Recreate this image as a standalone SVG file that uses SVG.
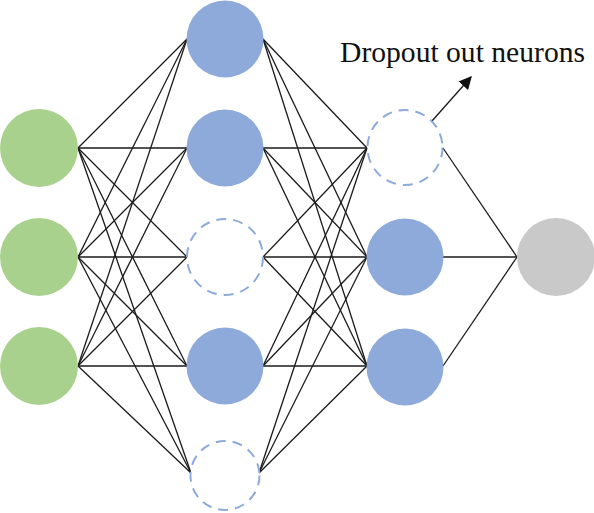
<svg xmlns="http://www.w3.org/2000/svg" width="594" height="513" viewBox="0 0 594 513">
<defs>
<style>
.in{fill:#a9d18e}
.hid{fill:#8eaadb}
.out{fill:#c9c9c9}
.drop{fill:#fff;stroke:#8eaadb;stroke-width:2;stroke-dasharray:10 7}
#connectors line{stroke:#1a1a1a;stroke-width:1.3}
.lbl{font-family:"Liberation Serif","Times New Roman",serif;font-size:29px;fill:#111}
</style>
<marker id="ah" viewBox="0 0 10 10" refX="9" refY="5" markerWidth="13" markerHeight="13" markerUnits="userSpaceOnUse" orient="auto">
<path d="M0,0 L10,5 L0,10 z" fill="#111"/>
</marker>
</defs>
<rect width="594" height="513" fill="#fff"/>
<g id="connectors">
<line x1="78" y1="148" x2="187" y2="39"/><line x1="78" y1="148" x2="187" y2="148"/><line x1="78" y1="148" x2="187" y2="257"/><line x1="78" y1="148" x2="187" y2="366"/><line x1="78" y1="148" x2="191" y2="473"/>
<line x1="78" y1="257" x2="187" y2="39"/><line x1="78" y1="257" x2="187" y2="148"/><line x1="78" y1="257" x2="187" y2="257"/><line x1="78" y1="257" x2="187" y2="366"/><line x1="78" y1="257" x2="191" y2="473"/>
<line x1="78" y1="366" x2="187" y2="39"/><line x1="78" y1="366" x2="187" y2="148"/><line x1="78" y1="366" x2="187" y2="257"/><line x1="78" y1="366" x2="187" y2="366"/><line x1="78" y1="366" x2="191" y2="473"/>
<line x1="263" y1="39" x2="367" y2="148"/><line x1="263" y1="39" x2="367" y2="257"/><line x1="263" y1="39" x2="367" y2="366"/>
<line x1="263" y1="148" x2="367" y2="148"/><line x1="263" y1="148" x2="367" y2="257"/><line x1="263" y1="148" x2="367" y2="366"/>
<line x1="263" y1="257" x2="367" y2="148"/><line x1="263" y1="257" x2="367" y2="257"/><line x1="263" y1="257" x2="367" y2="366"/>
<line x1="263" y1="366" x2="367" y2="148"/><line x1="263" y1="366" x2="367" y2="257"/><line x1="263" y1="366" x2="367" y2="366"/>
<line x1="259" y1="473" x2="367" y2="148"/><line x1="259" y1="473" x2="367" y2="257"/><line x1="259" y1="473" x2="367" y2="366"/>
<line x1="443" y1="148" x2="517" y2="257"/><line x1="443" y1="257" x2="517" y2="257"/><line x1="443" y1="366" x2="517" y2="257"/>
<line x1="432" y1="121" x2="471" y2="77" marker-end="url(#ah)"/>
</g>
<g id="in1"><circle class="in" cx="39" cy="148" r="39"/></g>
<g id="in2"><circle class="in" cx="39" cy="257" r="39"/></g>
<g id="in3"><circle class="in" cx="39" cy="366" r="39"/></g>
<g id="h1a"><circle class="hid" cx="225" cy="39" r="38.5"/></g>
<g id="h1b"><circle class="hid" cx="225" cy="148" r="38.5"/></g>
<g id="h1c"><circle class="drop" cx="225" cy="257" r="38"/></g>
<g id="h1d"><circle class="hid" cx="225" cy="366" r="38.5"/></g>
<g id="h1e"><circle class="drop" cx="225" cy="475.5" r="34.5"/></g>
<g id="h2a"><circle class="drop" cx="405" cy="147.5" r="37.5"/></g>
<g id="h2b"><circle class="hid" cx="405" cy="257" r="38.5"/></g>
<g id="h2c"><circle class="hid" cx="405" cy="367" r="38.5"/></g>
<g id="out"><circle class="out" cx="556" cy="257" r="39"/></g>
<g id="label"><text class="lbl" x="340" y="62" textLength="245" lengthAdjust="spacingAndGlyphs">Dropout out neurons</text></g>
</svg>
